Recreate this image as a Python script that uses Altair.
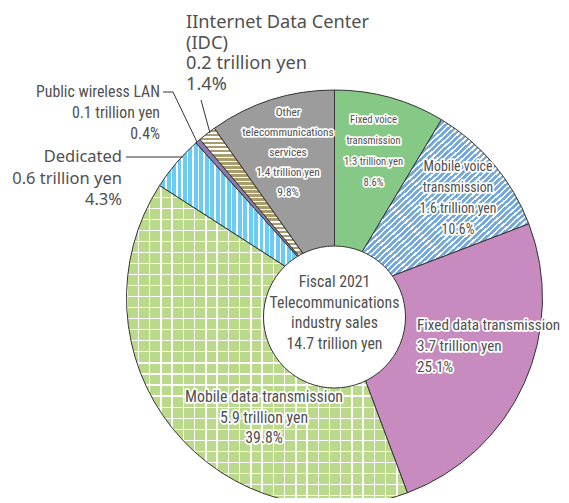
import math
import altair as alt
import pandas as pd

# ---------------- data ----------------
categories = [
    "Fixed voice transmission",
    "Mobile voice transmission",
    "Fixed data transmission",
    "Mobile data transmission",
    "Dedicated",
    "Public wireless LAN",
    "Internet Data Center (IDC)",
    "Other telecommunications services",
]
sales_trillion_yen = [1.3, 1.6, 3.7, 5.9, 0.6, 0.1, 0.2, 1.4]
share_pct = [8.6, 10.6, 25.1, 39.8, 4.3, 0.4, 1.4, 9.8]

center_lines = ["Fiscal 2021", "Telecommunications", "industry sales", "14.7 trillion yen"]
idc_lines = ["IInternet Data Center", "(IDC)", "0.2 trillion yen", "1.4%"]
lan_lines = ["Public wireless LAN", "0.1 trillion yen", "0.4%"]
dedicated_lines = ["Dedicated", "0.6 trillion yen", "4.3%"]
other_lines = ["Other", "telecommunications", "services", "1.4 trillion yen", "9.8%"]
fixed_voice_lines = ["Fixed voice", "transmission", "1.3  trillion yen", "8.6%"]
mobile_voice_lines = ["Mobile voice", "transmission", "1.6  trillion yen", "10.6%"]
fixed_data_lines = ["Fixed data transmission", "3.7  trillion yen", "25.1%"]
mobile_data_lines = ["Mobile data transmission", "5.9  trillion yen", "39.8%"]

df = pd.DataFrame({"category": categories, "sales": sales_trillion_yen, "share": share_pct})
df["end"] = df["share"].cumsum()
df["start"] = df["end"] - df["share"]

# ---------------- layout ----------------
M = 8  # page margin
CX, CY, R = 334.5 - M, 298 - M, 208
ICX, ICY, IR = 334.5 - M, 317 - M, 71
TEXT = "#505050"
NARROW = "'Roboto Condensed', 'DejaVu Sans Condensed', sans-serif"
WIDE = "'Noto Sans', 'Open Sans', sans-serif"

theta_scale = alt.Scale(domain=[0, 100], range=[0, 2 * math.pi])


def stripes(base, line, n, frac, x2, y2):
    stops = []
    for i in range(n):
        a = i / n
        b = min((i + frac) / n, 1)
        c = min((i + 1) / n, 1)
        stops += [
            {"offset": a, "color": line},
            {"offset": b, "color": line},
            {"offset": b, "color": base},
            {"offset": c, "color": base},
        ]
    return {"gradient": "linear", "x1": 0, "y1": 0, "x2": x2, "y2": y2, "stops": stops}


def slice_layer(cat, fill, stroke=True):
    kw = dict(outerRadius=R, fill=fill)
    if stroke:
        kw.update(stroke="#333333", strokeWidth=1)
    else:
        kw.update(strokeWidth=0)
    return (
        alt.Chart(df)
        .transform_filter(alt.datum.category == cat)
        .mark_arc(**kw)
        .encode(
            theta=alt.Theta("start:Q", scale=theta_scale, stack=False),
            theta2="end:Q",
            x=alt.value(CX),
            y=alt.value(CY),
        )
    )


fills = {
    categories[0]: "#86c986",
    categories[1]: stripes("#74a9de", "#ffffff", 62, 0.38, 1, 1),
    categories[2]: "#c88bbf",
    categories[3]: stripes("#bbd98b", "#ffffff", 25, 0.13, 1, 0),
    categories[4]: stripes("#6ccdf4", "#ffffff", 32, 0.28, 1, 0),
    categories[5]: "#8a7cad",
    categories[6]: stripes("#a99d6d", "#ffffff", 42, 0.33, 0, 1),
    categories[7]: "#9c9c9c",
}

layers = []
for cat in categories:
    if cat == categories[3]:
        layers.append(slice_layer(cat, fills[cat], stroke=False))
        layers.append(slice_layer(cat, stripes("rgba(255,255,255,0)", "#ffffff", 29, 0.11, 0, 1)))
    else:
        layers.append(slice_layer(cat, fills[cat]))

# white centre disc
layers.append(
    alt.Chart(df.head(1))
    .mark_arc(theta=0, theta2=2 * math.pi, outerRadius=IR, fill="#ffffff", stroke="#333333", strokeWidth=1)
    .encode(x=alt.value(ICX), y=alt.value(ICY))
)

# leader lines (page coordinates)
leaders = pd.DataFrame(
    {
        "x": [201, 163, 173, 126],
        "y": [100, 92, 92, 157],
        "x2": [210, 173, 197, 183],
        "y2": [133, 92, 142, 157],
    }
)
leaders[["x", "x2", "y", "y2"]] -= M
layers.append(
    alt.Chart(leaders)
    .mark_rule(color="#333333", strokeWidth=1)
    .encode(
        x=alt.X("x:Q", scale=None),
        y=alt.Y("y:Q", scale=None),
        x2="x2:Q",
        y2="y2:Q",
    )
)


def text_block(lines, x, y0, lh, size, align, font, halo):
    t = pd.DataFrame({"t": lines, "x": [x - M] * len(lines), "y": [y0 - M + i * lh for i in range(len(lines))]})
    enc = dict(x=alt.X("x:Q", scale=None), y=alt.Y("y:Q", scale=None), text="t:N")
    out = []
    if halo:
        out.append(
            alt.Chart(t)
            .mark_text(align=align, baseline="middle", font=font, fontSize=size, stroke="white",
                       strokeWidth=3.5, strokeJoin="round", color="white")
            .encode(**enc)
        )
    out.append(
        alt.Chart(t)
        .mark_text(align=align, baseline="middle", font=font, fontSize=size, color=TEXT)
        .encode(**enc)
    )
    return out


layers += text_block(center_lines, 334.5, 282, 20.5, 15.8, "center", NARROW, False)
layers += text_block(idc_lines, 186, 23, 20.7, 18.2, "left", WIDE, False)
layers += text_block(lan_lines, 160, 92, 20.8, 15.8, "right", NARROW, False)
layers += text_block(dedicated_lines, 122, 157, 21.5, 16.5, "right", WIDE, False)
layers += text_block(other_lines, 288, 113, 20, 11.4, "center", NARROW, True)
layers += text_block(fixed_voice_lines, 373.5, 120, 21, 10.6, "center", NARROW, True)
layers += text_block(mobile_voice_lines, 458, 167, 21, 13.8, "center", NARROW, True)
layers += text_block(fixed_data_lines, 417, 325, 21, 15.2, "left", NARROW, True)
layers += text_block(mobile_data_lines, 264, 397, 20.5, 15.8, "center", NARROW, True)

chart = (
    alt.layer(*layers)
    .properties(width=553, height=490, autosize="none", padding=0)
    .configure_view(stroke=None)
)

chart.save("out.html", embed_options={"renderer": "svg", "actions": False})
